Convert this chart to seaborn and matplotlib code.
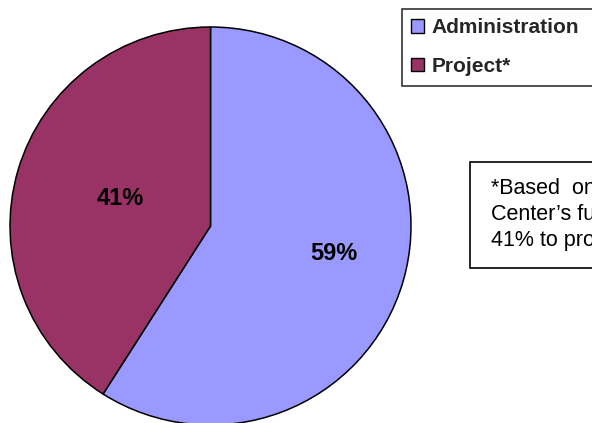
import matplotlib
matplotlib.use("Agg")
import matplotlib.pyplot as plt
import seaborn as sns
from matplotlib.patches import Rectangle

categories = ["Administration", "Project*"]
values = [59, 41]
colors = ["#9999FF", "#993366"]
note_lines = ["*Based  on the", "Center\u2019s funding,", "41% to projects"]

sns.set_theme(style="white")
plt.rcParams["font.family"] = ["Liberation Sans", "DejaVu Sans"]

fig = plt.figure(figsize=(5.92, 4.23), dpi=100)
fig.patch.set_facecolor("white")

ax = fig.add_axes([10 / 592, (423 - 425) / 423, 401 / 592, 398 / 423])
wedges, texts, autotexts = ax.pie(
    values,
    colors=colors,
    startangle=90,
    counterclock=False,
    autopct="%1.0f%%",
    pctdistance=0.6,
    wedgeprops=dict(edgecolor="black", linewidth=1.1),
    textprops=dict(fontsize=17, fontweight="bold", color="black"),
)
ax.set_aspect("auto")
ax.set_xlim(-1.0, 1.0)
ax.set_ylim(-1.0, 1.0)

# fine-tune label positions to match the reference layout
autotexts[0].set_position((0.615, -0.14))
autotexts[1].set_position((-0.45, 0.14))

leg = fig.legend(
    wedges, categories,
    loc="upper left",
    bbox_to_anchor=(402 / 592, 1 - 9 / 423, 0.4, 0.0),
    mode="expand",
    frameon=True, fancybox=False, shadow=False,
    prop=dict(size=15, weight="bold"),
    handlelength=0.6, handleheight=0.6,
    handletextpad=0.35, labelspacing=0.95,
    borderpad=0.45, borderaxespad=0.0,
)
leg.get_frame().set_edgecolor("black")
leg.get_frame().set_linewidth(1.2)
for h in leg.legend_handles:
    h.set_edgecolor("black")
    h.set_linewidth(1.0)

# note box
fig.patches.append(Rectangle((470 / 592, 1 - 268 / 423), 0.5, (268 - 162) / 423,
                             transform=fig.transFigure, facecolor="white",
                             edgecolor="black", linewidth=1.2))
fig.text(491 / 592, 1 - 178 / 423, "\n".join(note_lines),
         fontsize=15.5, va="top", ha="left", linespacing=1.3, color="black")

fig.savefig("out.png", dpi=100)
